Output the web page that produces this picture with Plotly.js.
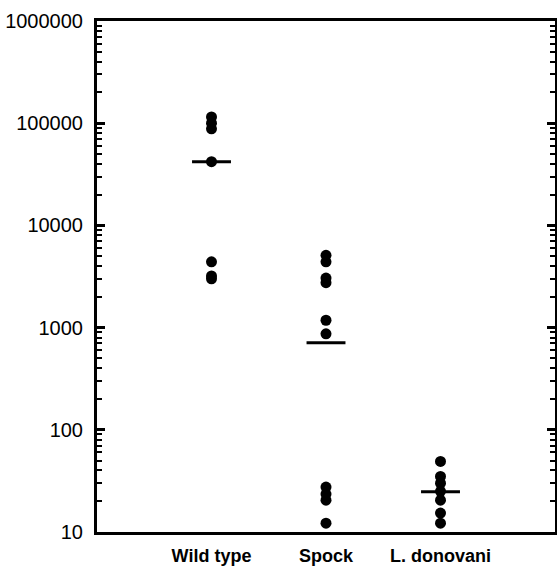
<!DOCTYPE html>
<html>
<head>
<meta charset="utf-8">
<script src="https://cdn.plot.ly/plotly-3.0.1.min.js"></script>
<style>html,body{margin:0;padding:0;background:#fff;}#chart{width:557px;height:570px;}</style>
</head>
<body>
<div id="chart"></div>
<script>
const categories = ["Wild type", "Spock", "L. donovani"];
const wildType = [115000, 100000, 88000, 42000, 4400, 3200, 3000];
const spock = [5100, 4400, 3050, 2750, 1180, 870, 27.5, 23.5, 20.5, 12.2];
const donovani = [49, 35, 30, 25, 20.5, 15.3, 12.2];
const medians = [42000, 710, 24.8];
const yTickVals = [10, 100, 1000, 10000, 100000, 1000000];
const yTickText = ["10", "100", "1000", "10000", "100000", "1000000"];

const groups = [wildType, spock, donovani];
const traces = [];
groups.forEach((vals, i) => {
  traces.push({
    type: 'scatter', mode: 'markers',
    x: vals.map(() => i + 1), y: vals,
    marker: {color: '#000', size: 11},
    hoverinfo: 'y', showlegend: false
  });
});
const halfW = 0.17;
medians.forEach((m, i) => {
  traces.push({
    type: 'scatter', mode: 'lines',
    x: [i + 1 - halfW, i + 1 + halfW], y: [m, m],
    line: {color: '#000', width: 3},
    hoverinfo: 'skip', showlegend: false
  });
});

const layout = {
  width: 557, height: 570,
  margin: {l: 97, r: 2, t: 21, b: 38},
  paper_bgcolor: '#fff', plot_bgcolor: '#fff',
  font: {family: 'Liberation Sans, Arial, sans-serif', color: '#000'},
  xaxis: {
    range: [0, 4],
    tickvals: [1, 2, 3], ticktext: categories,
    ticks: '', showgrid: false, zeroline: false,
    showline: true, linecolor: '#000', linewidth: 3, mirror: true,
    tickfont: {size: 18, family: 'Liberation Sans, Arial, sans-serif', weight: 'bold'},
    ticklabelstandoff: 5
  },
  yaxis: {
    type: 'log', range: [1, 6],
    tickvals: yTickVals, ticktext: yTickText,
    ticks: 'inside', ticklen: 8, tickwidth: 3, tickcolor: '#000',
    minor: {ticks: 'inside', ticklen: 5, tickwidth: 2, tickcolor: '#000', dtick: 'D1', showgrid: false},
    showgrid: false, zeroline: false,
    showline: true, linecolor: '#000', linewidth: 3, mirror: 'ticks',
    tickfont: {size: 20},
    ticklabelstandoff: 7
  }
};
Plotly.newPlot('chart', traces, layout, {staticPlot: true, displayModeBar: false});
</script>
</body>
</html>
